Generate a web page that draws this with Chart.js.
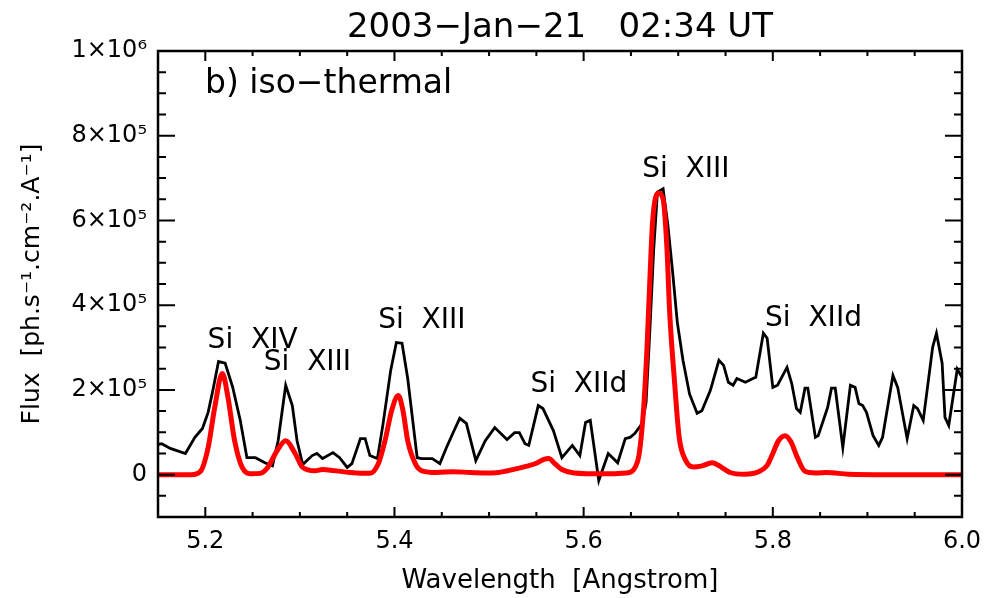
<!DOCTYPE html>
<html>
<head>
<meta charset="utf-8">
<script src="https://cdn.jsdelivr.net/npm/chart.js@4/dist/chart.umd.min.js"></script>
<style>
  html, body { margin: 0; padding: 0; background: #fff; }
</style>
</head>
<body>
<canvas id="spec" width="996" height="598"></canvas>
<script>
// observed spectrum (black)
const obsWave = [5.150, 5.154, 5.163, 5.179, 5.189, 5.197, 5.203, 5.208, 5.214, 5.221, 5.229, 5.237, 5.244, 5.253, 5.263, 5.271, 5.277, 5.285, 5.292, 5.297,
  5.303, 5.313, 5.318, 5.324, 5.335, 5.342, 5.350, 5.355, 5.364, 5.369, 5.374, 5.382, 5.388, 5.396, 5.402, 5.408, 5.414, 5.424, 5.429, 5.440,
  5.448, 5.455, 5.464, 5.469, 5.476, 5.486, 5.496, 5.506, 5.519, 5.527, 5.532, 5.538, 5.542, 5.552, 5.557, 5.568, 5.577, 5.588, 5.596, 5.602,
  5.607, 5.616, 5.626, 5.636, 5.644, 5.649, 5.654, 5.662, 5.666, 5.670, 5.674, 5.678, 5.684, 5.689, 5.694, 5.699, 5.705, 5.712, 5.720, 5.725,
  5.734, 5.743, 5.748, 5.753, 5.758, 5.762, 5.771, 5.779, 5.782, 5.790, 5.794, 5.800, 5.805, 5.815, 5.820, 5.825, 5.829, 5.834, 5.837, 5.845,
  5.848, 5.858, 5.862, 5.866, 5.874, 5.882, 5.887, 5.891, 5.895, 5.899, 5.906, 5.912, 5.916, 5.927, 5.932, 5.942, 5.949, 5.953, 5.959, 5.969,
  5.973, 5.979, 5.982, 5.986, 5.995, 6.000];
const obsFlux = [71000, 73000, 62000, 50000, 88000, 109000, 147000, 199000, 267000, 263000, 206000, 128000, 40000, 40000, 28000, 21000, 80000, 211000, 163000, 80000,
  24000, 45000, 50000, 38000, 52000, 40000, 17000, 26000, 85000, 85000, 45000, 38000, 121000, 246000, 312000, 310000, 227000, 40000, 38000, 38000,
  26000, 64000, 109000, 133000, 121000, 33000, 80000, 111000, 83000, 99000, 99000, 73000, 69000, 163000, 156000, 104000, 40000, 69000, 45000, 123000,
  128000, -14000, 50000, 28000, 85000, 88000, 97000, 121000, 170000, 340000, 530000, 667000, 675000, 590000, 480000, 360000, 270000, 190000, 145000, 151000,
  199000, 270000, 258000, 218000, 211000, 227000, 218000, 227000, 230000, 334000, 322000, 206000, 211000, 253000, 215000, 156000, 147000, 204000, 204000, 88000,
  92000, 159000, 204000, 204000, 64000, 211000, 206000, 168000, 163000, 147000, 92000, 69000, 88000, 234000, 206000, 85000, 163000, 156000, 128000, 301000,
  334000, 263000, 135000, 116000, 249000, 230000];

// iso-thermal model (red)
const modelWave = [5.150, 5.185, 5.195, 5.203, 5.210, 5.218, 5.224, 5.231, 5.239, 5.249, 5.258, 5.266, 5.276, 5.285, 5.295, 5.303, 5.316, 5.324, 5.335, 5.353,
  5.374, 5.383, 5.390, 5.397, 5.404, 5.409, 5.414, 5.422, 5.429, 5.445, 5.462, 5.480, 5.498, 5.510, 5.527, 5.540, 5.550, 5.558, 5.563, 5.570,
  5.577, 5.590, 5.620, 5.645, 5.657, 5.663, 5.667, 5.670, 5.673, 5.679, 5.684, 5.688, 5.691, 5.696, 5.701, 5.708, 5.716, 5.724, 5.736, 5.746,
  5.755, 5.770, 5.786, 5.794, 5.800, 5.806, 5.813, 5.819, 5.826, 5.834, 5.845, 5.857, 5.880, 5.920, 6.000];
const modelFlux = [0, 0, 8000, 64000, 159000, 239000, 182000, 80000, 17000, 2000, 3000, 17000, 57000, 80000, 50000, 17000, 9000, 12000, 10000, 5000,
  3000, 26000, 80000, 151000, 187000, 151000, 80000, 26000, 9000, 5000, 7000, 5000, 4000, 5000, 13000, 20000, 27000, 36000, 38000, 25000,
  12000, 4000, 2000, 4000, 31000, 144000, 300000, 460000, 600000, 665000, 650000, 537000, 381000, 222000, 88000, 33000, 18000, 20000, 28000, 17000,
  5000, 1000, 8000, 22000, 50000, 80000, 92000, 78000, 40000, 8000, 4000, 5000, 1000, 0, 0];

const xTicks = [5.2, 5.4, 5.6, 5.8, 6.0];
const yTicks = [0, 200000, 400000, 600000, 800000, 1000000];
const yTickLabels = ['0', '2×10⁵', '4×10⁵', '6×10⁵', '8×10⁵', '1×10⁶'];

// line identifications, placed at (wavelength, flux)
const lineIds = ['Si  XIV', 'Si  XIII', 'Si  XIII', 'Si  XIId', 'Si  XIII', 'Si  XIId'];
const lineIdWave = [5.250, 5.308, 5.429, 5.595, 5.708, 5.843];
const lineIdFlux = [300000, 248000, 345000, 194000, 703000, 352000];

const FONT = 'DejaVu Sans';
const TITLE = '2003−Jan−21   02:34 UT';

const framePlugin = {
  id: 'frame',
  afterDatasetsDraw(chart) {
    const { ctx, chartArea: a, scales: { x, y } } = chart;
    ctx.save();
    ctx.strokeStyle = '#000';
    ctx.lineWidth = 2.5;
    ctx.lineCap = 'butt';
    ctx.strokeRect(a.left, a.top, a.right - a.left, a.bottom - a.top);
    ctx.lineWidth = 2;
    ctx.beginPath();
    for (let v = 5.15; v <= 6.0001; v += 0.05) {
      const px = x.getPixelForValue(v);
      const major = xTicks.some(t => Math.abs(t - v) < 1e-6);
      const len = major ? 10 : 5;
      ctx.moveTo(px, a.bottom); ctx.lineTo(px, a.bottom - len);
      ctx.moveTo(px, a.top); ctx.lineTo(px, a.top + len);
    }
    for (let v = -100000; v <= 1000001; v += 50000) {
      const py = y.getPixelForValue(v);
      const major = v % 200000 === 0;
      const len = major ? 17 : 8;
      ctx.moveTo(a.left, py); ctx.lineTo(a.left + len, py);
      ctx.moveTo(a.right, py); ctx.lineTo(a.right - len, py);
    }
    ctx.stroke();

    ctx.fillStyle = '#000';
    ctx.textBaseline = 'alphabetic';
    ctx.font = '28px "' + FONT + '"';
    ctx.textAlign = 'center';
    lineIds.forEach((t, i) => {
      ctx.fillText(t, x.getPixelForValue(lineIdWave[i]), y.getPixelForValue(lineIdFlux[i]));
    });
    ctx.font = '33px "' + FONT + '"';
    ctx.textAlign = 'left';
    ctx.fillText('b) iso−thermal', x.getPixelForValue(5.1997), y.getPixelForValue(902000));

    // plot title, centred over the plot frame
    ctx.font = '34px "' + FONT + '"';
    ctx.textAlign = 'center';
    ctx.fillText(TITLE, (a.left + a.right) / 2, 37);
    ctx.restore();
  }
};

new Chart(document.getElementById('spec'), {
  type: 'line',
  data: {
    datasets: [
      {
        label: 'model',
        data: modelWave.map((w, i) => ({ x: w, y: modelFlux[i] })),
        borderColor: '#ff0000',
        borderWidth: 5,
        pointRadius: 0,
        cubicInterpolationMode: 'monotone',
        order: 0
      },
      {
        label: 'observed',
        data: obsWave.map((w, i) => ({ x: w, y: obsFlux[i] })),
        borderColor: '#000000',
        borderWidth: 2.8,
        pointRadius: 0,
        tension: 0,
        order: 1
      }
    ]
  },
  options: {
    responsive: false,
    animation: false,
    events: [],
    layout: { padding: { left: 0, right: 34, top: 51, bottom: 0 } },
    plugins: {
      legend: { display: false },
      tooltip: { enabled: false },
      title: { display: false }
    },
    scales: {
      x: {
        type: 'linear',
        min: 5.15,
        max: 6.0,
        afterBuildTicks: s => { s.ticks = xTicks.map(v => ({ value: v })); },
        afterFit: s => { s.height = 81; },
        grid: { display: false, drawTicks: false },
        border: { display: false },
        ticks: {
          color: '#000',
          padding: 10,
          maxRotation: 0,
          font: { family: FONT, size: 24 },
          callback: v => v.toFixed(1)
        },
        title: {
          display: true,
          text: 'Wavelength  [Angstrom]',
          color: '#000',
          font: { family: FONT, size: 26 },
          padding: { top: 0, bottom: 1 }
        }
      },
      y: {
        type: 'linear',
        min: -100000,
        max: 1000000,
        afterBuildTicks: s => { s.ticks = yTicks.map(v => ({ value: v })); },
        afterFit: s => { s.width = 158; },
        grid: { display: false, drawTicks: false },
        border: { display: false },
        ticks: {
          color: '#000',
          padding: 11,
          font: { family: FONT, size: 24 },
          callback: (v, i) => yTickLabels[i]
        },
        title: {
          display: true,
          text: 'Flux  [ph.s⁻¹.cm⁻².A⁻¹]',
          color: '#000',
          font: { family: FONT, size: 25 },
          padding: { top: 17, bottom: 0 }
        }
      }
    }
  },
  plugins: [framePlugin]
});
</script>
</body>
</html>
